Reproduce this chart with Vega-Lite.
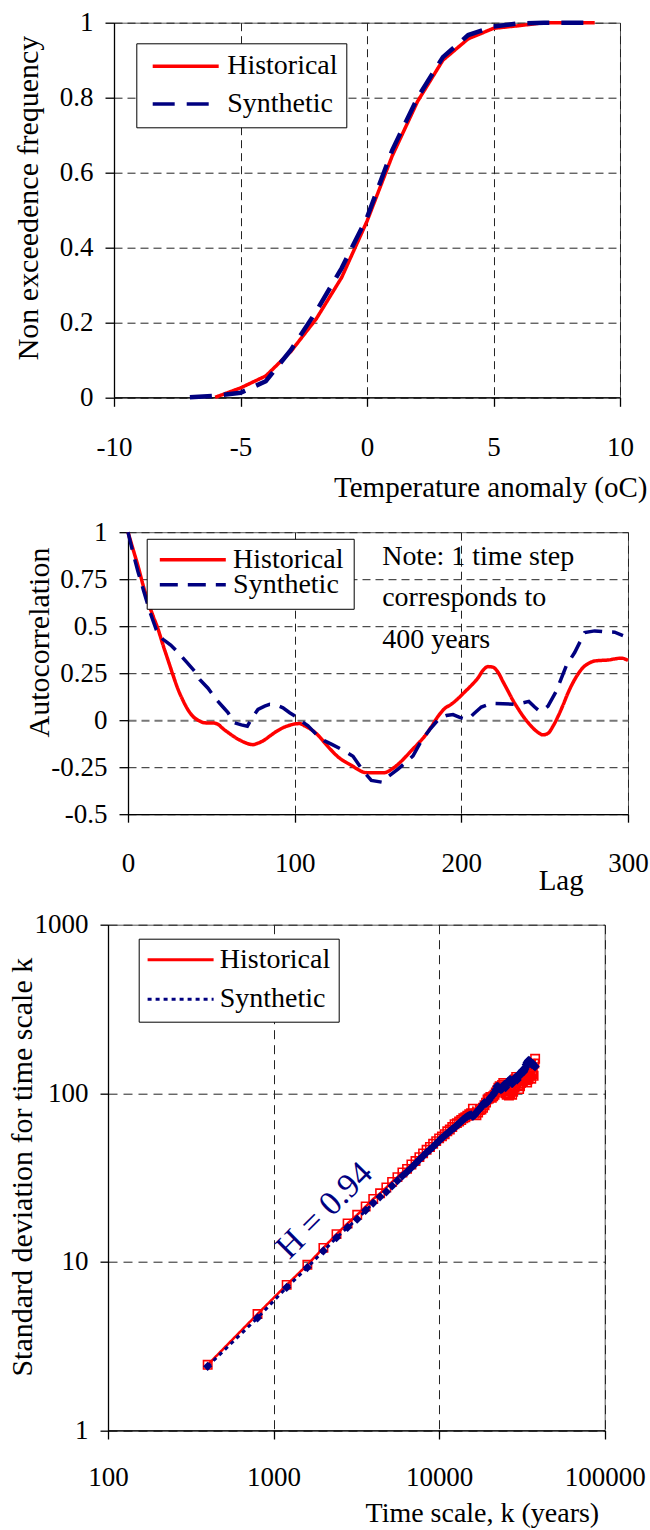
{
  "$schema": "https://vega.github.io/schema/vega-lite/v6.json",
  "padding": {"left": 0, "top": 7.7, "right": 0, "bottom": 0},
  "spacing": 13.5,
  "resolve": {"scale": {"color": "independent", "strokeDash": "independent"}, "legend": {"color": "independent", "strokeDash": "independent"}},
  "config": {
    "font": "Liberation Serif",
    "view": {"stroke": "#555", "strokeWidth": 1},
    "axis": {
      "labelFont": "Liberation Serif", "labelFontSize": 27, "labelColor": "black",
      "titleFont": "Liberation Serif", "titleFontSize": 30, "titleFontWeight": "normal", "titleColor": "black",
      "domainColor": "black", "domainWidth": 1.3, "tickColor": "black", "tickWidth": 1.3,
      "grid": true, "gridColor": "#222", "gridDash": [8, 5], "gridWidth": 1,
      "labelFlush": false, "labelOverlap": false, "labelBound": false, "titleLimit": 1000, "labelLimit": 500
    },
    "legend": {"labelFont": "Liberation Serif", "labelFontSize": 28, "labelColor": "black", "labelLimit": 400}
  },
  "datasets": {
    "cdf": [
      {"t": -6, "f": 0, "series": "Historical"}, {"t": -5, "f": 0.025, "series": "Historical"}, {"t": -4, "f": 0.057, "series": "Historical"},
      {"t": -3, "f": 0.123, "series": "Historical"}, {"t": -2, "f": 0.21, "series": "Historical"}, {"t": -1, "f": 0.32, "series": "Historical"},
      {"t": 0, "f": 0.47, "series": "Historical"}, {"t": 1, "f": 0.645, "series": "Historical"}, {"t": 2, "f": 0.79, "series": "Historical"},
      {"t": 3, "f": 0.9, "series": "Historical"}, {"t": 4, "f": 0.957, "series": "Historical"}, {"t": 5, "f": 0.985, "series": "Historical"},
      {"t": 6, "f": 0.992, "series": "Historical"}, {"t": 7, "f": 1, "series": "Historical"}, {"t": 8, "f": 1, "series": "Historical"},
      {"t": 9, "f": 1, "series": "Historical"},
      {"t": -7, "f": 0, "series": "Synthetic"}, {"t": -6, "f": 0.004, "series": "Synthetic"}, {"t": -5, "f": 0.012, "series": "Synthetic"},
      {"t": -4, "f": 0.043, "series": "Synthetic"}, {"t": -3, "f": 0.127, "series": "Synthetic"}, {"t": -2, "f": 0.23, "series": "Synthetic"},
      {"t": -1, "f": 0.345, "series": "Synthetic"}, {"t": 0, "f": 0.48, "series": "Synthetic"}, {"t": 1, "f": 0.66, "series": "Synthetic"},
      {"t": 2, "f": 0.8, "series": "Synthetic"}, {"t": 3, "f": 0.908, "series": "Synthetic"}, {"t": 4, "f": 0.967, "series": "Synthetic"},
      {"t": 5, "f": 0.99, "series": "Synthetic"}, {"t": 6, "f": 0.998, "series": "Synthetic"}, {"t": 7, "f": 1, "series": "Synthetic"},
      {"t": 8, "f": 1, "series": "Synthetic"}, {"t": 9, "f": 1, "series": "Synthetic"}
    ],
    "acf": [
      {"lag": 0, "value": 1.0, "series": "Historical"}, {"lag": 3, "value": 0.91, "series": "Historical"}, {"lag": 6, "value": 0.82, "series": "Historical"},
      {"lag": 9, "value": 0.72, "series": "Historical"}, {"lag": 12, "value": 0.63, "series": "Historical"}, {"lag": 15, "value": 0.555, "series": "Historical"},
      {"lag": 18, "value": 0.485, "series": "Historical"}, {"lag": 21, "value": 0.4, "series": "Historical"}, {"lag": 24, "value": 0.32, "series": "Historical"},
      {"lag": 27, "value": 0.24, "series": "Historical"}, {"lag": 30, "value": 0.165, "series": "Historical"}, {"lag": 33, "value": 0.105, "series": "Historical"},
      {"lag": 36, "value": 0.055, "series": "Historical"}, {"lag": 39, "value": 0.02, "series": "Historical"}, {"lag": 42, "value": 0.0, "series": "Historical"},
      {"lag": 45, "value": -0.012, "series": "Historical"}, {"lag": 48, "value": -0.015, "series": "Historical"}, {"lag": 51, "value": -0.015, "series": "Historical"},
      {"lag": 54, "value": -0.022, "series": "Historical"}, {"lag": 57, "value": -0.045, "series": "Historical"}, {"lag": 60, "value": -0.065, "series": "Historical"},
      {"lag": 64, "value": -0.09, "series": "Historical"}, {"lag": 68, "value": -0.11, "series": "Historical"}, {"lag": 72, "value": -0.125, "series": "Historical"},
      {"lag": 75, "value": -0.13, "series": "Historical"}, {"lag": 78, "value": -0.122, "series": "Historical"}, {"lag": 81, "value": -0.11, "series": "Historical"},
      {"lag": 85, "value": -0.085, "series": "Historical"}, {"lag": 89, "value": -0.06, "series": "Historical"}, {"lag": 93, "value": -0.04, "series": "Historical"},
      {"lag": 97, "value": -0.027, "series": "Historical"}, {"lag": 100, "value": -0.02, "series": "Historical"}, {"lag": 103, "value": -0.018, "series": "Historical"},
      {"lag": 106, "value": -0.03, "series": "Historical"}, {"lag": 110, "value": -0.05, "series": "Historical"}, {"lag": 114, "value": -0.08, "series": "Historical"},
      {"lag": 118, "value": -0.12, "series": "Historical"}, {"lag": 122, "value": -0.16, "series": "Historical"}, {"lag": 126, "value": -0.195, "series": "Historical"},
      {"lag": 130, "value": -0.22, "series": "Historical"}, {"lag": 134, "value": -0.24, "series": "Historical"}, {"lag": 138, "value": -0.262, "series": "Historical"},
      {"lag": 142, "value": -0.278, "series": "Historical"}, {"lag": 146, "value": -0.28, "series": "Historical"}, {"lag": 150, "value": -0.28, "series": "Historical"},
      {"lag": 154, "value": -0.279, "series": "Historical"}, {"lag": 158, "value": -0.262, "series": "Historical"}, {"lag": 162, "value": -0.235, "series": "Historical"},
      {"lag": 166, "value": -0.2, "series": "Historical"}, {"lag": 170, "value": -0.162, "series": "Historical"}, {"lag": 174, "value": -0.125, "series": "Historical"},
      {"lag": 178, "value": -0.085, "series": "Historical"}, {"lag": 182, "value": -0.035, "series": "Historical"}, {"lag": 186, "value": 0.02, "series": "Historical"},
      {"lag": 190, "value": 0.062, "series": "Historical"}, {"lag": 194, "value": 0.085, "series": "Historical"}, {"lag": 198, "value": 0.115, "series": "Historical"},
      {"lag": 202, "value": 0.15, "series": "Historical"}, {"lag": 206, "value": 0.185, "series": "Historical"}, {"lag": 210, "value": 0.225, "series": "Historical"},
      {"lag": 213, "value": 0.265, "series": "Historical"}, {"lag": 216, "value": 0.285, "series": "Historical"}, {"lag": 219, "value": 0.282, "series": "Historical"},
      {"lag": 222, "value": 0.255, "series": "Historical"}, {"lag": 225, "value": 0.205, "series": "Historical"}, {"lag": 228, "value": 0.155, "series": "Historical"},
      {"lag": 231, "value": 0.105, "series": "Historical"}, {"lag": 234, "value": 0.062, "series": "Historical"}, {"lag": 237, "value": 0.022, "series": "Historical"},
      {"lag": 240, "value": -0.012, "series": "Historical"}, {"lag": 243, "value": -0.042, "series": "Historical"}, {"lag": 246, "value": -0.065, "series": "Historical"},
      {"lag": 249, "value": -0.078, "series": "Historical"}, {"lag": 252, "value": -0.07, "series": "Historical"}, {"lag": 255, "value": -0.032, "series": "Historical"},
      {"lag": 258, "value": 0.02, "series": "Historical"}, {"lag": 261, "value": 0.08, "series": "Historical"}, {"lag": 264, "value": 0.145, "series": "Historical"},
      {"lag": 267, "value": 0.2, "series": "Historical"}, {"lag": 270, "value": 0.245, "series": "Historical"}, {"lag": 273, "value": 0.28, "series": "Historical"},
      {"lag": 276, "value": 0.3, "series": "Historical"}, {"lag": 280, "value": 0.315, "series": "Historical"}, {"lag": 284, "value": 0.318, "series": "Historical"},
      {"lag": 288, "value": 0.32, "series": "Historical"}, {"lag": 292, "value": 0.326, "series": "Historical"}, {"lag": 296, "value": 0.33, "series": "Historical"},
      {"lag": 300, "value": 0.318, "series": "Historical"},
      {"lag": 0, "value": 1.0, "series": "Synthetic"}, {"lag": 3, "value": 0.89, "series": "Synthetic"}, {"lag": 6, "value": 0.79, "series": "Synthetic"},
      {"lag": 9.5, "value": 0.685, "series": "Synthetic"}, {"lag": 13, "value": 0.58, "series": "Synthetic"}, {"lag": 17, "value": 0.48, "series": "Synthetic"},
      {"lag": 21, "value": 0.43, "series": "Synthetic"}, {"lag": 25.6, "value": 0.4, "series": "Synthetic"}, {"lag": 30, "value": 0.36, "series": "Synthetic"},
      {"lag": 35.6, "value": 0.305, "series": "Synthetic"}, {"lag": 40, "value": 0.26, "series": "Synthetic"}, {"lag": 43, "value": 0.217, "series": "Synthetic"},
      {"lag": 48, "value": 0.17, "series": "Synthetic"}, {"lag": 53, "value": 0.11, "series": "Synthetic"}, {"lag": 57, "value": 0.07, "series": "Synthetic"},
      {"lag": 60, "value": 0.04, "series": "Synthetic"}, {"lag": 64, "value": -0.014, "series": "Synthetic"}, {"lag": 68, "value": -0.025, "series": "Synthetic"},
      {"lag": 71.6, "value": -0.032, "series": "Synthetic"}, {"lag": 75, "value": 0.02, "series": "Synthetic"}, {"lag": 78, "value": 0.057, "series": "Synthetic"},
      {"lag": 82, "value": 0.075, "series": "Synthetic"}, {"lag": 85, "value": 0.084, "series": "Synthetic"}, {"lag": 89, "value": 0.08, "series": "Synthetic"},
      {"lag": 93, "value": 0.066, "series": "Synthetic"}, {"lag": 97, "value": 0.04, "series": "Synthetic"}, {"lag": 101, "value": 0.018, "series": "Synthetic"},
      {"lag": 104, "value": -0.005, "series": "Synthetic"}, {"lag": 108, "value": -0.03, "series": "Synthetic"}, {"lag": 114, "value": -0.085, "series": "Synthetic"},
      {"lag": 118, "value": -0.11, "series": "Synthetic"}, {"lag": 122.6, "value": -0.13, "series": "Synthetic"}, {"lag": 128, "value": -0.155, "series": "Synthetic"},
      {"lag": 135, "value": -0.192, "series": "Synthetic"}, {"lag": 138, "value": -0.23, "series": "Synthetic"}, {"lag": 141, "value": -0.27, "series": "Synthetic"},
      {"lag": 146, "value": -0.32, "series": "Synthetic"}, {"lag": 152.5, "value": -0.33, "series": "Synthetic"}, {"lag": 156, "value": -0.3, "series": "Synthetic"},
      {"lag": 162, "value": -0.26, "series": "Synthetic"}, {"lag": 166, "value": -0.23, "series": "Synthetic"}, {"lag": 171, "value": -0.19, "series": "Synthetic"},
      {"lag": 176, "value": -0.11, "series": "Synthetic"}, {"lag": 181, "value": -0.05, "series": "Synthetic"}, {"lag": 187, "value": 0.012, "series": "Synthetic"},
      {"lag": 191, "value": 0.025, "series": "Synthetic"}, {"lag": 195, "value": 0.03, "series": "Synthetic"}, {"lag": 199, "value": 0.015, "series": "Synthetic"},
      {"lag": 202, "value": 0.007, "series": "Synthetic"}, {"lag": 205, "value": 0.012, "series": "Synthetic"}, {"lag": 207, "value": 0.03, "series": "Synthetic"},
      {"lag": 212, "value": 0.07, "series": "Synthetic"}, {"lag": 218, "value": 0.09, "series": "Synthetic"}, {"lag": 225, "value": 0.088, "series": "Synthetic"},
      {"lag": 232, "value": 0.085, "series": "Synthetic"}, {"lag": 236, "value": 0.09, "series": "Synthetic"}, {"lag": 240.5, "value": 0.1, "series": "Synthetic"},
      {"lag": 244, "value": 0.07, "series": "Synthetic"}, {"lag": 247, "value": 0.048, "series": "Synthetic"}, {"lag": 250, "value": 0.06, "series": "Synthetic"},
      {"lag": 252, "value": 0.075, "series": "Synthetic"}, {"lag": 257, "value": 0.155, "series": "Synthetic"}, {"lag": 263, "value": 0.29, "series": "Synthetic"},
      {"lag": 268, "value": 0.36, "series": "Synthetic"}, {"lag": 274, "value": 0.466, "series": "Synthetic"}, {"lag": 280, "value": 0.475, "series": "Synthetic"},
      {"lag": 286, "value": 0.47, "series": "Synthetic"}, {"lag": 292, "value": 0.468, "series": "Synthetic"}, {"lag": 297, "value": 0.45, "series": "Synthetic"},
      {"lag": 152.5, "value": 0.8276, "series": "Note", "note": "Note: 1 time step\ncorresponds to\n400 years"}
    ],
    "sd": [
      {"k": 400, "sd": 2.45, "series": "Historical"}, {"k": 800, "sd": 4.9, "series": "Historical"}, {"k": 1200, "sd": 7.3, "series": "Historical"},
      {"k": 1600, "sd": 9.6, "series": "Historical"}, {"k": 2000, "sd": 12.1, "series": "Historical"}, {"k": 2400, "sd": 14.6, "series": "Historical"},
      {"k": 2800, "sd": 16.9, "series": "Historical"}, {"k": 3200, "sd": 19.0, "series": "Historical"}, {"k": 3600, "sd": 21.3, "series": "Historical"},
      {"k": 4000, "sd": 23.6, "series": "Historical"}, {"k": 4400, "sd": 25.5, "series": "Historical"}, {"k": 4800, "sd": 27.6, "series": "Historical"},
      {"k": 5200, "sd": 29.8, "series": "Historical"}, {"k": 5600, "sd": 31.8, "series": "Historical"}, {"k": 6000, "sd": 33.9, "series": "Historical"},
      {"k": 6400, "sd": 35.6, "series": "Historical"}, {"k": 6800, "sd": 37.8, "series": "Historical"}, {"k": 7200, "sd": 39.6, "series": "Historical"},
      {"k": 7600, "sd": 41.8, "series": "Historical"}, {"k": 8000, "sd": 44.0, "series": "Historical"}, {"k": 8400, "sd": 46.2, "series": "Historical"},
      {"k": 8800, "sd": 48.0, "series": "Historical"}, {"k": 9200, "sd": 50.1, "series": "Historical"}, {"k": 9600, "sd": 52.0, "series": "Historical"},
      {"k": 10000, "sd": 54.0, "series": "Historical"}, {"k": 10400, "sd": 55.5, "series": "Historical"}, {"k": 10800, "sd": 57.2, "series": "Historical"},
      {"k": 11200, "sd": 59.5, "series": "Historical"}, {"k": 11600, "sd": 61.0, "series": "Historical"}, {"k": 12000, "sd": 63.0, "series": "Historical"},
      {"k": 12400, "sd": 65.5, "series": "Historical"}, {"k": 12800, "sd": 66.5, "series": "Historical"}, {"k": 13200, "sd": 68.0, "series": "Historical"},
      {"k": 13600, "sd": 69.5, "series": "Historical"}, {"k": 14000, "sd": 71.0, "series": "Historical"}, {"k": 14400, "sd": 72.0, "series": "Historical"},
      {"k": 14800, "sd": 73.5, "series": "Historical"}, {"k": 15200, "sd": 75.0, "series": "Historical"}, {"k": 15600, "sd": 76.0, "series": "Historical"},
      {"k": 16000, "sd": 81.0, "series": "Historical"}, {"k": 16400, "sd": 75.5, "series": "Historical"}, {"k": 16800, "sd": 74.0, "series": "Historical"},
      {"k": 17200, "sd": 77.0, "series": "Historical"}, {"k": 17600, "sd": 79.5, "series": "Historical"}, {"k": 18000, "sd": 80.0, "series": "Historical"},
      {"k": 18400, "sd": 82.0, "series": "Historical"}, {"k": 18800, "sd": 85.0, "series": "Historical"}, {"k": 19200, "sd": 88.0, "series": "Historical"},
      {"k": 19600, "sd": 92.0, "series": "Historical"}, {"k": 20000, "sd": 93.0, "series": "Historical"}, {"k": 20400, "sd": 95.0, "series": "Historical"},
      {"k": 20800, "sd": 94.0, "series": "Historical"}, {"k": 21200, "sd": 96.0, "series": "Historical"}, {"k": 21600, "sd": 98.0, "series": "Historical"},
      {"k": 22000, "sd": 101, "series": "Historical"}, {"k": 22400, "sd": 104, "series": "Historical"}, {"k": 22800, "sd": 108, "series": "Historical"},
      {"k": 23200, "sd": 110, "series": "Historical"}, {"k": 23600, "sd": 106, "series": "Historical"}, {"k": 24000, "sd": 112, "series": "Historical"},
      {"k": 24400, "sd": 115, "series": "Historical"}, {"k": 24800, "sd": 104, "series": "Historical"}, {"k": 25200, "sd": 100, "series": "Historical"},
      {"k": 25600, "sd": 98, "series": "Historical"}, {"k": 26000, "sd": 99, "series": "Historical"}, {"k": 26400, "sd": 97, "series": "Historical"},
      {"k": 26800, "sd": 100, "series": "Historical"}, {"k": 27200, "sd": 103, "series": "Historical"}, {"k": 27600, "sd": 98, "series": "Historical"},
      {"k": 28000, "sd": 102, "series": "Historical"}, {"k": 28400, "sd": 108, "series": "Historical"}, {"k": 28800, "sd": 121, "series": "Historical"},
      {"k": 29200, "sd": 125, "series": "Historical"}, {"k": 29600, "sd": 118, "series": "Historical"}, {"k": 30000, "sd": 112, "series": "Historical"},
      {"k": 30400, "sd": 106, "series": "Historical"}, {"k": 30800, "sd": 110, "series": "Historical"}, {"k": 31200, "sd": 115, "series": "Historical"},
      {"k": 31600, "sd": 120, "series": "Historical"}, {"k": 32000, "sd": 118, "series": "Historical"}, {"k": 32400, "sd": 122, "series": "Historical"},
      {"k": 32800, "sd": 128, "series": "Historical"}, {"k": 33200, "sd": 125, "series": "Historical"}, {"k": 33600, "sd": 120, "series": "Historical"},
      {"k": 34000, "sd": 116, "series": "Historical"}, {"k": 34400, "sd": 121, "series": "Historical"}, {"k": 34800, "sd": 125, "series": "Historical"},
      {"k": 35200, "sd": 132, "series": "Historical"}, {"k": 35600, "sd": 128, "series": "Historical"}, {"k": 36000, "sd": 122, "series": "Historical"},
      {"k": 36400, "sd": 130, "series": "Historical"}, {"k": 36800, "sd": 135, "series": "Historical"}, {"k": 37200, "sd": 127, "series": "Historical"},
      {"k": 37600, "sd": 150, "series": "Historical"}, {"k": 38000, "sd": 160, "series": "Historical"},
      {"k": 400, "sd": 2.4, "series": "Synthetic"}, {"k": 800, "sd": 4.65, "series": "Synthetic"}, {"k": 1200, "sd": 7.05, "series": "Synthetic"},
      {"k": 1600, "sd": 9.25, "series": "Synthetic"}, {"k": 2000, "sd": 11.6, "series": "Synthetic"}, {"k": 2400, "sd": 13.9, "series": "Synthetic"},
      {"k": 2800, "sd": 16.0, "series": "Synthetic"}, {"k": 3200, "sd": 17.9, "series": "Synthetic"}, {"k": 3600, "sd": 20.2, "series": "Synthetic"},
      {"k": 4000, "sd": 22.3, "series": "Synthetic"}, {"k": 4400, "sd": 24.3, "series": "Synthetic"}, {"k": 4800, "sd": 26.0, "series": "Synthetic"},
      {"k": 5200, "sd": 28.2, "series": "Synthetic"}, {"k": 5600, "sd": 30.3, "series": "Synthetic"}, {"k": 6000, "sd": 32.3, "series": "Synthetic"},
      {"k": 6400, "sd": 34.2, "series": "Synthetic"}, {"k": 6800, "sd": 36.2, "series": "Synthetic"}, {"k": 7200, "sd": 38.3, "series": "Synthetic"},
      {"k": 7600, "sd": 40.4, "series": "Synthetic"}, {"k": 8000, "sd": 42.4, "series": "Synthetic"}, {"k": 8400, "sd": 44.5, "series": "Synthetic"},
      {"k": 8800, "sd": 46.3, "series": "Synthetic"}, {"k": 9200, "sd": 48.2, "series": "Synthetic"}, {"k": 9600, "sd": 50.2, "series": "Synthetic"},
      {"k": 10000, "sd": 52.3, "series": "Synthetic"}, {"k": 10400, "sd": 54.3, "series": "Synthetic"}, {"k": 10800, "sd": 56.0, "series": "Synthetic"},
      {"k": 11200, "sd": 57.8, "series": "Synthetic"}, {"k": 11600, "sd": 59.5, "series": "Synthetic"}, {"k": 12000, "sd": 61.3, "series": "Synthetic"},
      {"k": 12400, "sd": 62.5, "series": "Synthetic"}, {"k": 12800, "sd": 64.5, "series": "Synthetic"}, {"k": 13200, "sd": 66.3, "series": "Synthetic"},
      {"k": 13600, "sd": 68.0, "series": "Synthetic"}, {"k": 14000, "sd": 70.0, "series": "Synthetic"}, {"k": 14400, "sd": 71.5, "series": "Synthetic"},
      {"k": 14800, "sd": 73.0, "series": "Synthetic"}, {"k": 15200, "sd": 74.0, "series": "Synthetic"}, {"k": 15600, "sd": 74.5, "series": "Synthetic"},
      {"k": 16000, "sd": 73.0, "series": "Synthetic"}, {"k": 16400, "sd": 74.5, "series": "Synthetic"}, {"k": 16800, "sd": 77.0, "series": "Synthetic"},
      {"k": 17200, "sd": 79.0, "series": "Synthetic"}, {"k": 17600, "sd": 81.0, "series": "Synthetic"}, {"k": 18000, "sd": 83.0, "series": "Synthetic"},
      {"k": 18400, "sd": 86.0, "series": "Synthetic"}, {"k": 18800, "sd": 88.0, "series": "Synthetic"}, {"k": 19200, "sd": 87.0, "series": "Synthetic"},
      {"k": 19600, "sd": 89.0, "series": "Synthetic"}, {"k": 20000, "sd": 91.0, "series": "Synthetic"}, {"k": 20400, "sd": 94.0, "series": "Synthetic"},
      {"k": 20800, "sd": 96.0, "series": "Synthetic"}, {"k": 21200, "sd": 98.0, "series": "Synthetic"}, {"k": 21600, "sd": 101, "series": "Synthetic"},
      {"k": 22000, "sd": 105, "series": "Synthetic"}, {"k": 22400, "sd": 110, "series": "Synthetic"}, {"k": 22800, "sd": 109, "series": "Synthetic"},
      {"k": 23200, "sd": 107, "series": "Synthetic"}, {"k": 23600, "sd": 105, "series": "Synthetic"}, {"k": 24000, "sd": 106, "series": "Synthetic"},
      {"k": 24400, "sd": 110, "series": "Synthetic"}, {"k": 24800, "sd": 113, "series": "Synthetic"}, {"k": 25200, "sd": 108, "series": "Synthetic"},
      {"k": 25600, "sd": 112, "series": "Synthetic"}, {"k": 26000, "sd": 117, "series": "Synthetic"}, {"k": 26400, "sd": 118, "series": "Synthetic"},
      {"k": 26800, "sd": 121, "series": "Synthetic"}, {"k": 27200, "sd": 118, "series": "Synthetic"}, {"k": 27600, "sd": 114, "series": "Synthetic"},
      {"k": 28000, "sd": 117, "series": "Synthetic"}, {"k": 28400, "sd": 120, "series": "Synthetic"}, {"k": 28800, "sd": 124, "series": "Synthetic"},
      {"k": 29200, "sd": 122, "series": "Synthetic"}, {"k": 29600, "sd": 120, "series": "Synthetic"}, {"k": 30000, "sd": 125, "series": "Synthetic"},
      {"k": 30400, "sd": 130, "series": "Synthetic"}, {"k": 30800, "sd": 128, "series": "Synthetic"}, {"k": 31200, "sd": 132, "series": "Synthetic"},
      {"k": 31600, "sd": 135, "series": "Synthetic"}, {"k": 32000, "sd": 137, "series": "Synthetic"}, {"k": 32400, "sd": 134, "series": "Synthetic"},
      {"k": 32800, "sd": 138, "series": "Synthetic"}, {"k": 33200, "sd": 142, "series": "Synthetic"}, {"k": 33600, "sd": 148, "series": "Synthetic"},
      {"k": 34000, "sd": 152, "series": "Synthetic"}, {"k": 34400, "sd": 155, "series": "Synthetic"}, {"k": 34800, "sd": 157, "series": "Synthetic"},
      {"k": 35200, "sd": 155, "series": "Synthetic"}, {"k": 35600, "sd": 152, "series": "Synthetic"}, {"k": 36000, "sd": 150, "series": "Synthetic"},
      {"k": 36400, "sd": 148, "series": "Synthetic"}, {"k": 36800, "sd": 150, "series": "Synthetic"}, {"k": 37200, "sd": 147, "series": "Synthetic"},
      {"k": 37600, "sd": 145, "series": "Synthetic"}, {"k": 38000, "sd": 144, "series": "Synthetic"},
      {"k": 2037, "sd": 20.1, "series": "Note", "note": "H = 0.94"}
    ]
  },
  "vconcat": [
    {
      "spacing": 0,
      "resolve": {"scale": {"color": "independent", "strokeDash": "independent"}, "legend": {"color": "independent", "strokeDash": "independent"}},
      "hconcat": [
        {"width": 11.3, "height": 1, "data": {"values": [{"a": 0}]}, "mark": {"type": "point", "opacity": 0}, "view": {"stroke": null}},
        {
          "width": 506,
          "height": 374.6,
          "data": {"name": "cdf"},
          "encoding": {
            "x": {"field": "t", "type": "quantitative", "scale": {"domain": [-10, 10], "nice": false, "zero": false},
              "axis": {"values": [-10, -5, 0, 5, 10], "labelExpr": "toString(datum.value)", "tickSize": 9, "labelPadding": 49.7, "labelBaseline": "alphabetic",
                "title": "Temperature anomaly (oC)", "titleFontSize": 29, "titleX": 533, "titleY": 99.7, "titleAlign": "right", "titleBaseline": "alphabetic"}},
            "y": {"field": "f", "type": "quantitative", "scale": {"domain": [0, 1], "nice": false},
              "axis": {"values": [0, 0.2, 0.4, 0.6, 0.8, 1], "labelExpr": "toString(datum.value)", "tickSize": 9, "labelPadding": 12,
                "title": "Non exceedence frequency", "titleX": -86, "titleY": 174.8, "titleAngle": 270, "titleAlign": "center", "titleBaseline": "middle"}},
            "color": {"field": "series", "type": "nominal", "scale": {"domain": ["Historical", "Synthetic"], "range": ["#ff0000", "#000080"]},
              "legend": {"orient": "none", "legendX": 22.3, "legendY": 20.6, "title": null, "padding": 8, "symbolType": "stroke", "symbolSize": 4356, "symbolStrokeWidth": 3.5,
                "symbolOffset": 6.4, "labelOffset": 6.5, "clipHeight": 30, "rowPadding": 7.6, "fillColor": "white", "strokeColor": "black"}},
            "strokeDash": {"field": "series", "type": "nominal", "scale": {"domain": ["Historical", "Synthetic"], "range": [[1, 0], [22, 12]]},
              "legend": {"orient": "none", "legendX": 22.3, "legendY": 20.6, "title": null, "padding": 8, "symbolType": "stroke", "symbolSize": 4356, "symbolStrokeWidth": 3.5,
                "symbolOffset": 6.4, "labelOffset": 6.5, "clipHeight": 30, "rowPadding": 7.6, "fillColor": "white", "strokeColor": "black"}}
          },
          "layer": [
            {"transform": [{"filter": "datum.series === 'Historical'"}], "mark": {"type": "line", "strokeWidth": 3.5}},
            {"transform": [{"filter": "datum.series === 'Synthetic'"}], "mark": {"type": "line", "strokeWidth": 4.5}}
          ]
        }
      ]
    },
    {
      "spacing": 0,
      "resolve": {"scale": {"color": "independent", "strokeDash": "independent"}, "legend": {"color": "independent", "strokeDash": "independent"}},
      "hconcat": [
        {"width": 23.3, "height": 1, "data": {"values": [{"a": 0}]}, "mark": {"type": "point", "opacity": 0}, "view": {"stroke": null}},
        {
          "width": 500,
          "height": 282,
          "data": {"name": "acf"},
          "encoding": {
            "x": {"field": "lag", "type": "quantitative", "scale": {"domain": [0, 300], "nice": false},
              "axis": {"values": [0, 100, 200, 300], "labelExpr": "toString(datum.value)", "tickSize": 8, "labelPadding": 49.3, "labelBaseline": "alphabetic",
                "title": "Lag", "titleFontSize": 29, "titleX": 432.7, "titleY": 75.3, "titleAlign": "center", "titleBaseline": "alphabetic"}},
            "y": {"field": "value", "type": "quantitative", "scale": {"domain": [-0.5, 1], "nice": false, "zero": false},
              "axis": {"values": [-0.5, -0.25, 0, 0.25, 0.5, 0.75, 1], "labelExpr": "toString(datum.value)", "tickSize": 9, "labelPadding": 12,
                "gridColor": {"condition": {"test": "datum.value === 0", "value": "#777"}, "value": "#222"},
                "gridWidth": {"condition": {"test": "datum.value === 0", "value": 2}, "value": 1},
                "title": "Autocorrelation", "titleX": -88.3, "titleY": 109.8, "titleAngle": 270, "titleAlign": "center", "titleBaseline": "middle"}},
            "color": {"field": "series", "type": "nominal", "scale": {"domain": ["Historical", "Synthetic"], "range": ["#ff0000", "#000080"]},
              "legend": {"orient": "none", "legendX": 18.7, "legendY": 6.6, "title": null, "padding": 10, "symbolType": "stroke", "symbolSize": 4356, "symbolStrokeWidth": 3.5,
                "symbolOffset": 1.1, "labelOffset": 5.3, "clipHeight": 22, "rowPadding": -6, "fillColor": "white", "strokeColor": "black"}},
            "strokeDash": {"field": "series", "type": "nominal", "scale": {"domain": ["Historical", "Synthetic"], "range": [[1, 0], [18, 10]]},
              "legend": {"orient": "none", "legendX": 18.7, "legendY": 6.6, "title": null, "padding": 10, "symbolType": "stroke", "symbolSize": 4356, "symbolStrokeWidth": 3.5,
                "symbolOffset": 1.1, "labelOffset": 5.3, "clipHeight": 22, "rowPadding": -6, "fillColor": "white", "strokeColor": "black"}}
          },
          "layer": [
            {"transform": [{"filter": "datum.series === 'Historical'"}], "mark": {"type": "line", "strokeWidth": 3.5, "interpolate": "monotone"}},
            {"transform": [{"filter": "datum.series === 'Synthetic'"}], "mark": {"type": "line", "strokeWidth": 3.5}},
            {"transform": [{"filter": "datum.series === 'Note'"}],
              "mark": {"type": "text", "align": "left", "baseline": "alphabetic", "fontSize": 28, "lineBreak": "\n", "lineHeight": 41.5},
              "encoding": {"text": {"field": "note"}, "color": {"value": "black"}, "strokeDash": {"value": [1, 0]}}}
          ]
        }
      ]
    },
    {
      "spacing": 0,
      "resolve": {"scale": {"color": "independent", "strokeDash": "independent"}, "legend": {"color": "independent", "strokeDash": "independent"}},
      "hconcat": [
        {"width": 6.3, "height": 1, "data": {"values": [{"a": 0}]}, "mark": {"type": "point", "opacity": 0}, "view": {"stroke": null}},
        {
          "width": 496.7,
          "height": 505.7,
          "data": {"name": "sd"},
          "encoding": {
            "x": {"field": "k", "type": "quantitative", "scale": {"type": "log", "domain": [100, 100000], "nice": false},
              "axis": {"values": [100, 1000, 10000, 100000], "labelExpr": "toString(datum.value)", "tickSize": 8.6, "labelPadding": 46.7, "labelBaseline": "alphabetic",
                "gridDash": [9, 6],
                "title": "Time scale, k  (years)", "titleFontSize": 28, "titleX": 490.7, "titleY": 91.3, "titleAlign": "right", "titleBaseline": "alphabetic"}},
            "y": {"field": "sd", "type": "quantitative", "scale": {"type": "log", "domain": [1, 1000], "nice": false},
              "axis": {"values": [1, 10, 100, 1000], "labelExpr": "toString(datum.value)", "tickSize": 8, "labelPadding": 12, "gridDash": [9, 6],
                "title": "Standard deviation for time scale k", "titleX": -85.3, "titleY": 242, "titleAngle": 270, "titleAlign": "center", "titleBaseline": "middle"}},
            "color": {"field": "series", "type": "nominal", "scale": {"domain": ["Historical", "Synthetic"], "range": ["#ff0000", "#000080"]},
              "legend": {"orient": "none", "legendX": 30.7, "legendY": 14, "title": null, "padding": 8, "symbolType": "stroke", "symbolSize": 4356, "symbolStrokeWidth": 3,
                "symbolOffset": -0.6, "labelOffset": 4.7, "clipHeight": 26, "rowPadding": 11.6, "fillColor": "white", "strokeColor": "black"}},
            "strokeDash": {"field": "series", "type": "nominal", "scale": {"domain": ["Historical", "Synthetic"], "range": [[1, 0], [4, 4]]},
              "legend": {"orient": "none", "legendX": 30.7, "legendY": 14, "title": null, "padding": 8, "symbolType": "stroke", "symbolSize": 4356, "symbolStrokeWidth": 3,
                "symbolOffset": -0.6, "labelOffset": 4.7, "clipHeight": 26, "rowPadding": 11.6, "fillColor": "white", "strokeColor": "black"}}
          },
          "layer": [
            {"transform": [{"filter": "datum.series === 'Historical'"}], "mark": {"type": "line", "strokeWidth": 2.5}},
            {"transform": [{"filter": "datum.series === 'Historical'"}],
              "mark": {"type": "point", "shape": "square", "filled": false, "strokeWidth": 1.6, "size": 70, "opacity": 1},
              "encoding": {"color": {"value": "#ff0000"}, "strokeDash": {"value": [1, 0]}}},
            {"transform": [{"filter": "datum.series === 'Synthetic'"}], "mark": {"type": "line", "strokeWidth": 3}},
            {"transform": [{"filter": "datum.series === 'Synthetic'"}],
              "mark": {"type": "point", "shape": "diamond", "filled": true, "size": 85, "opacity": 1},
              "encoding": {"color": {"value": "#000080"}, "strokeDash": {"value": [1, 0]}}},
            {"transform": [{"filter": "datum.series === 'Note'"}],
              "mark": {"type": "text", "angle": -45, "align": "center", "baseline": "middle", "fontSize": 34},
              "encoding": {"text": {"field": "note"}, "color": {"value": "#000080"}, "strokeDash": {"value": [1, 0]}}}
          ]
        }
      ]
    }
  ]
}
